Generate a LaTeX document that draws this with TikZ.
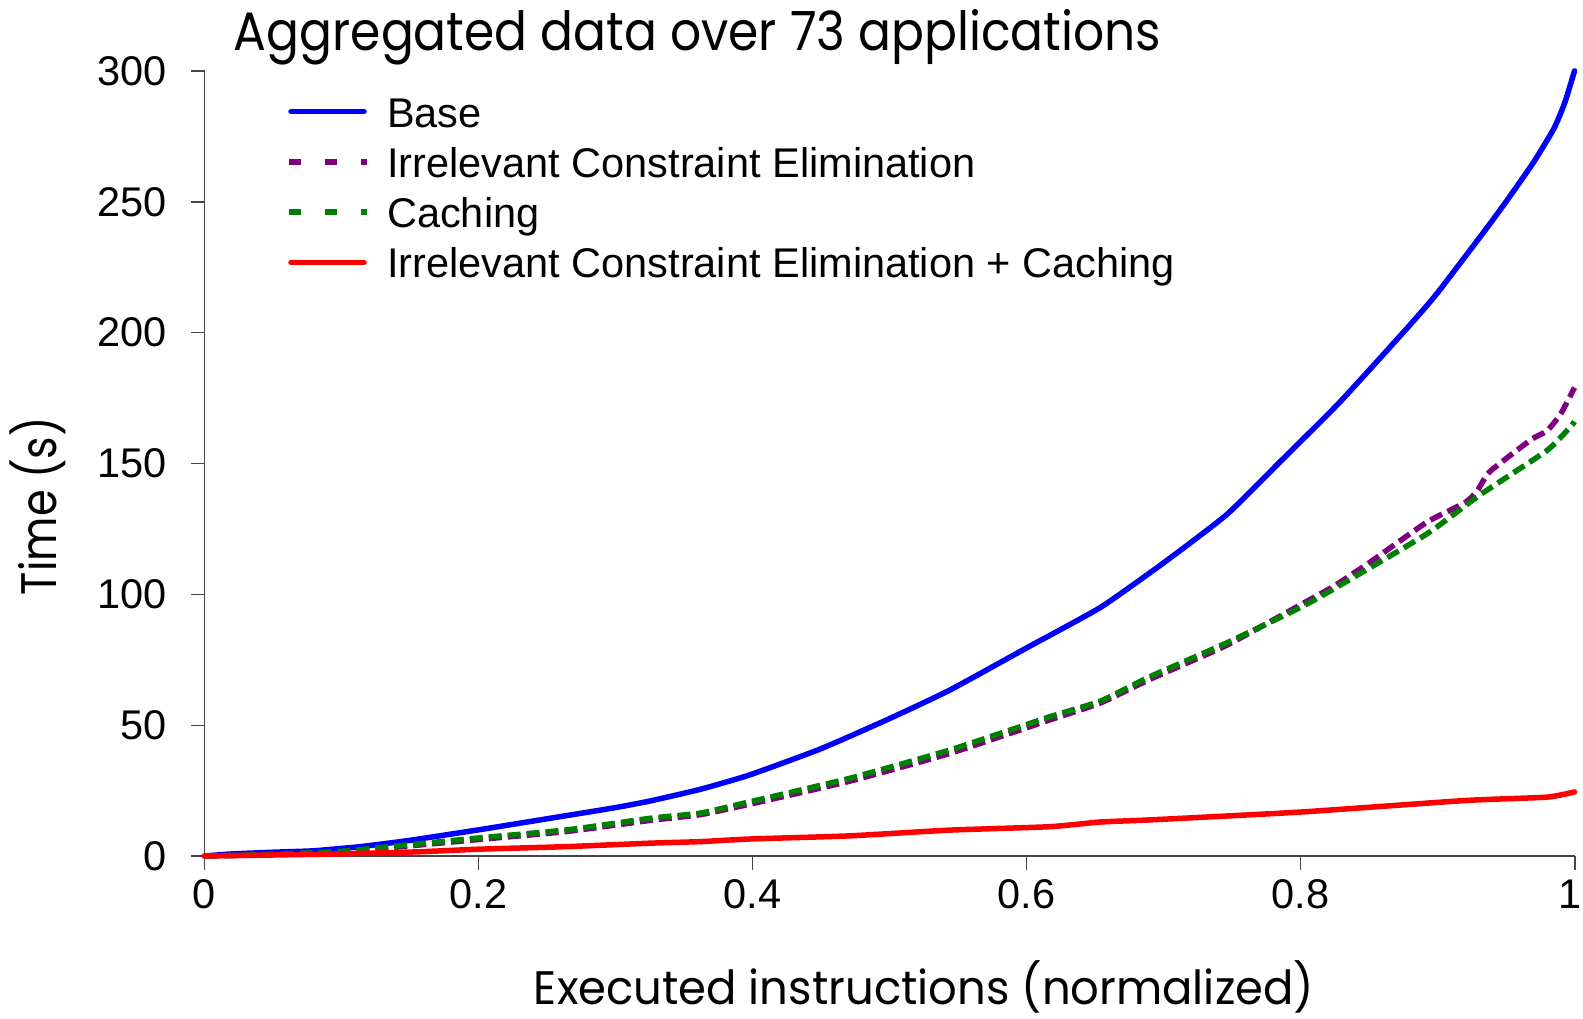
\documentclass[tikz,border=0pt]{standalone}
\usepackage{fontspec}
\setmainfont{Liberation Sans}
\newfontfamily\comicfont{Poppins}
\usepackage{graphicx}
\definecolor{cpurple}{RGB}{128,0,128}
\definecolor{cgreen}{RGB}{0,128,0}
\definecolor{axisgray}{RGB}{70,70,70}
\begin{document}
\begin{tikzpicture}[x=1bp,y=-1bp,
  axisline/.style={draw=axisgray, line width=1.4bp},
  ticklab/.style={font=\fontsize{41.5bp}{48bp}\selectfont, inner sep=0pt},
  legtext/.style={font=\fontsize{41.5bp}{48bp}\selectfont, inner sep=0pt, anchor=base west},
  basecurve/.style={draw=blue, line width=5.5bp, line join=round, line cap=round},
  bothcurve/.style={draw=red, line width=5.5bp, line join=round, line cap=round},
  icecurve/.style={draw=cpurple, line width=5.5bp, line join=round, dash pattern=on 13bp off 6bp},
  cachecurve/.style={draw=cgreen, line width=5.5bp, line join=round, dash pattern=on 13bp off 6bp},
  legdash/.style={dash pattern=on 12bp off 24bp}
]
\useasboundingbox (0,0) rectangle (1583,1018);
\fill[white] (0,0) rectangle (1583,1018);

% title and axis titles
\node[anchor=base, inner sep=0pt] (title) at (697.5,50)
  {\resizebox{927bp}{\height}{\fontsize{54bp}{60bp}\comicfont Aggregated data over 73 applications}};
\node[anchor=base, inner sep=0pt] (xtitle) at (924,1004)
  {\resizebox{780bp}{\height}{\fontsize{47bp}{52bp}\comicfont Executed instructions (normalized)}};
\node[anchor=base, rotate=90, inner sep=0pt] (ytitle) at (56,506)
  {\resizebox{178bp}{\height}{\fontsize{50bp}{56bp}\comicfont Time (s)}};

% axes
\coordinate (O) at (204.5,856);
\coordinate (ytop) at (204.5,71);
\coordinate (xend) at (1575,856);
\draw[axisline] (ytop) -- (O) -- (xend);

% y ticks and labels
\foreach \v/\yy in {0/856,50/725.2,100/594.3,150/463.5,200/332.7,250/201.8,300/71}{
  \coordinate (yt\v) at (204.5,\yy);
  \draw[axisline] (yt\v) -- ++(-13.5,0);
  \node[ticklab, anchor=east] (yl\v) at (167,\yy) {\v};
}
% x ticks and labels
\foreach \n/\lab/\xx/\lx in {0/0/204.5/204.5,2/0.2/478.5/478.5,4/0.4/752.5/752.5,6/0.6/1026.5/1026.5,8/0.8/1300.5/1300.5,10/1/1575/1570}{
  \coordinate (xt\n) at (\xx,856);
  \draw[axisline] (xt\n) -- ++(0,13.5);
  \node[ticklab] (xl\n) at (\lx,894) {\lab};
}

% data curves
\begin{scope}[shift={(204.5,856)}, x=1370bp, y=2.617bp]
\draw[basecurve] plot[smooth, tension=0.3] coordinates {(0,0) (0.02,0.8) (0.053,1.5) (0.08,2) (0.114,3.6) (0.15,6) (0.2,10) (0.265,15.5) (0.3,18.5) (0.325,21) (0.362,25.5) (0.398,31) (0.45,41) (0.5,52.5) (0.544,63.4) (0.6,79.5) (0.654,95) (0.7,112) (0.746,130.4) (0.785,150.6) (0.829,173.6) (0.88,203) (0.9,215.2) (0.936,240) (0.95,250) (0.97,265) (0.985,278) (0.993,288) (1,300)};
\draw[icecurve] plot[smooth, tension=0.3] coordinates {(0,0) (0.05,0.5) (0.1,1.5) (0.136,3.2) (0.2,6.3) (0.265,9.4) (0.325,13.6) (0.362,15.8) (0.398,19.8) (0.471,28.6) (0.544,39.2) (0.617,52) (0.654,58.5) (0.69,67.5) (0.746,80.5) (0.8,96) (0.824,103) (0.85,112) (0.892,127.5) (0.92,135) (0.929,139.5) (0.938,146.8) (0.968,159) (0.98,162.5) (0.99,169) (1,179)};
\draw[cachecurve] plot[smooth, tension=0.3] coordinates {(0,0) (0.05,0.6) (0.1,1.8) (0.136,3.6) (0.2,6.9) (0.265,10) (0.325,14.4) (0.362,16.4) (0.398,20.7) (0.471,29.7) (0.544,40.5) (0.617,53.2) (0.654,59.2) (0.69,68.5) (0.746,81.4) (0.8,95) (0.824,102) (0.892,123) (0.931,138) (0.98,155) (0.997,164) (1,166)};
\draw[bothcurve] plot[smooth, tension=0.3] coordinates {(0,0) (0.05,0.4) (0.097,0.8) (0.156,1.6) (0.2,2.6) (0.265,3.6) (0.325,4.9) (0.362,5.5) (0.398,6.5) (0.471,7.7) (0.544,9.9) (0.617,11.2) (0.654,13) (0.69,13.8) (0.8,16.8) (0.92,21.2) (0.98,22.5) (1,24.5)};
\end{scope}

% legend
\coordinate (l1a) at (291,111.5); \coordinate (l1b) at (364,111.5);
\coordinate (l2a) at (289,161.8); \coordinate (l2b) at (367,161.8);
\coordinate (l3a) at (289,212.1); \coordinate (l3b) at (367,212.1);
\coordinate (l4a) at (291,262.4); \coordinate (l4b) at (364,262.4);
\draw[basecurve] (l1a) -- (l1b);
\draw[icecurve, legdash] (l2a) -- (l2b);
\draw[cachecurve, legdash] (l3a) -- (l3b);
\draw[bothcurve] (l4a) -- (l4b);
\node[legtext] (leg1) at (387,127) {Base};
\node[legtext] (leg2) at (387,177.3) {Irrelevant Constraint Elimination};
\node[legtext] (leg3) at (387,227.6) {Caching};
\node[legtext] (leg4) at (387,277.9) {Irrelevant Constraint Elimination + Caching};
\end{tikzpicture}
\end{document}
